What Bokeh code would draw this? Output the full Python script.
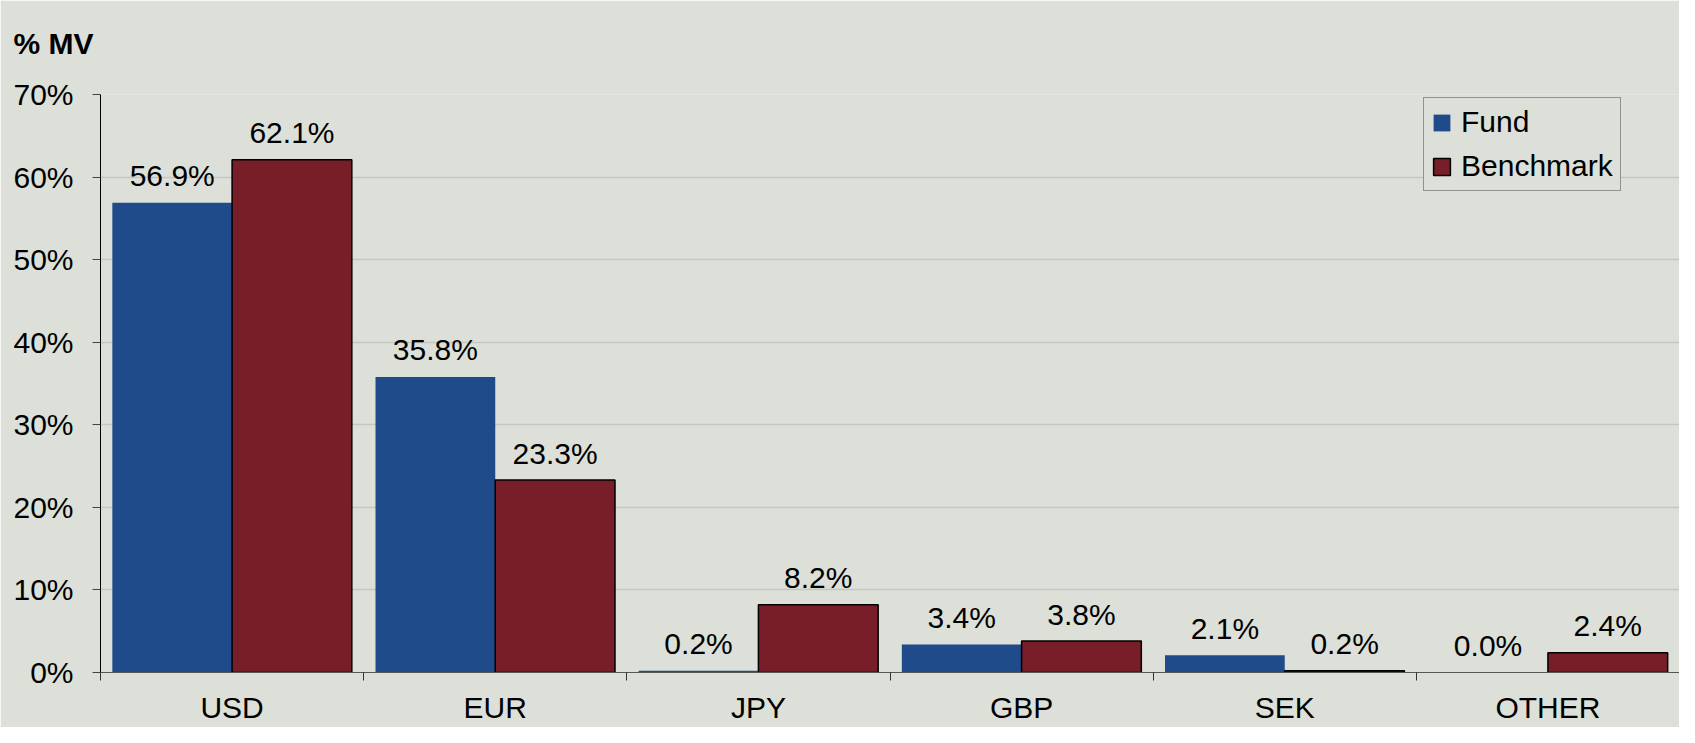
from bokeh.plotting import figure
from bokeh.models import ColumnDataSource, FixedTicker, Legend, LegendItem, Range1d
from bokeh.core.properties import value
from bokeh.embed import file_html
from bokeh.resources import INLINE

categories = ["USD", "EUR", "JPY", "GBP", "SEK", "OTHER"]
fund = [56.9, 35.8, 0.2, 3.4, 2.1, 0.0]
benchmark = [62.1, 23.3, 8.2, 3.8, 0.2, 2.4]
y_ticks = [0, 10, 20, 30, 40, 50, 60, 70]
y_tick_labels = ["0%", "10%", "20%", "30%", "40%", "50%", "60%", "70%"]

BG = "#DCE0D8"
BLUE = "#1F4B8A"
RED = "#771E28"
FONT = "Liberation Sans"
FS = "30px"

n = len(categories)
centers = [i + 0.5 for i in range(n)]
half = 0.2275
bw = 0.455

src_f = ColumnDataSource(dict(x=[c - half for c in centers], top=fund,
                              lbl=[f"{v:.1f}%" for v in fund]))
src_b = ColumnDataSource(dict(x=[c + half for c in centers], top=benchmark,
                              lbl=[f"{v:.1f}%" for v in benchmark]))

p = figure(width=1679, height=727, output_backend="svg", toolbar_location=None,
           x_range=Range1d(0, n), y_range=Range1d(0, 70),
           min_border_left=100, min_border_right=0, min_border_top=94, min_border_bottom=55)
p.background_fill_color = BG
p.border_fill_color = BG
p.outline_line_color = None

# second (blank) line only reserves space so the title sits higher above the frame
p.title.text = "% MV\n "
p.title.text_font = FONT
p.title.text_font_size = FS
p.title.text_font_style = "bold"
p.title.text_color = "black"
p.title.align = "left"
p.title.vertical_align = "top"
p.title.offset = -87
p.title.standoff = 0

rf = p.vbar(x="x", top="top", width=bw, source=src_f, fill_color=BLUE, line_color=None)
rb = p.vbar(x="x", top="top", width=bw, source=src_b, fill_color=RED, line_color="black", line_width=1.5)

for src in (src_f, src_b):
    p.text(x="x", y="top", text="lbl", source=src, text_align="center", text_baseline="alphabetic",
           y_offset=-27, text_font_size=FS, text_color="black", text_font=value(FONT))

xa = p.xaxis[0]
xa.ticker = FixedTicker(ticks=centers, minor_ticks=list(range(n + 1)))
xa.major_label_overrides = {c: lab for c, lab in zip(centers, categories)}
xa.major_tick_line_color = None
xa.major_tick_out = 0
xa.major_tick_in = 0
xa.minor_tick_out = 8
xa.minor_tick_in = 0
xa.minor_tick_line_color = "#333333"
xa.axis_line_color = "#555555"
xa.major_label_standoff = 10
xa.major_label_text_font_size = FS
xa.major_label_text_font = FONT
xa.major_label_text_color = "black"

ya = p.yaxis[0]
ya.ticker = FixedTicker(ticks=y_ticks, minor_ticks=[])
ya.major_label_overrides = {t: l for t, l in zip(y_ticks, y_tick_labels)}
ya.major_tick_out = 8
ya.major_tick_in = 0
ya.major_tick_line_color = "#444444"
ya.axis_line_color = "black"
ya.major_label_standoff = 19
ya.major_label_text_font_size = FS
ya.major_label_text_font = FONT
ya.major_label_text_color = "black"

p.xgrid.grid_line_color = None
p.ygrid.grid_line_color = "#C4C6C2"
p.ygrid.grid_line_width = 1.5

legend = Legend(items=[LegendItem(label="Fund", renderers=[rf]),
                       LegendItem(label="Benchmark", renderers=[rb])],
                location=(1323, 481))
legend.label_text_font = FONT
legend.label_text_font_size = FS
legend.label_text_color = "black"
legend.glyph_width = 21
legend.glyph_height = 21
legend.label_height = 34
legend.label_standoff = 9
legend.spacing = 10
legend.padding = 7
legend.margin = 0
legend.border_line_color = "#444444"
legend.border_line_width = 1.5
legend.background_fill_color = BG
legend.background_fill_alpha = 1.0
p.add_layout(legend)

open("out.html", "w").write(file_html(p, INLINE))
